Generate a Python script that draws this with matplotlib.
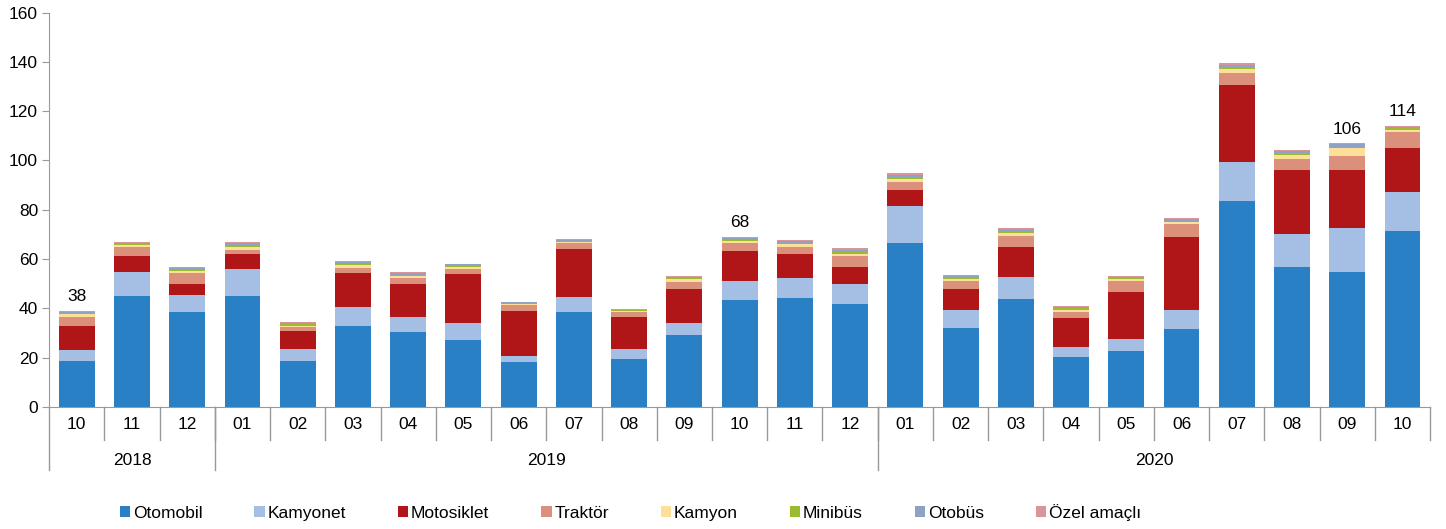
import numpy as np
import matplotlib.pyplot as plt
import matplotlib.transforms as mtransforms

plt.rcParams['font.family'] = ['Liberation Sans', 'DejaVu Sans']

# Months (2018-10 .. 2020-10) and year groups
months = ['10', '11', '12', '01', '02', '03', '04', '05', '06', '07', '08', '09',
          '10', '11', '12', '01', '02', '03', '04', '05', '06', '07', '08', '09', '10']
years = ['2018', '2019', '2020']
year_counts = [3, 12, 10]

# Series values (thousands)
otomobil = [18.7, 45.0, 38.3, 45.0, 18.7, 32.8, 30.2, 27.1, 18.0, 38.3, 19.4, 29.0, 43.5,
            44.0, 41.7, 66.4, 32.1, 43.6, 20.1, 22.6, 31.4, 83.5, 56.9, 54.8, 71.5]
kamyonet = [4.3, 9.8, 7.1, 10.8, 4.6, 7.6, 6.3, 6.8, 2.6, 6.4, 3.9, 4.9, 7.5,
            8.4, 8.1, 15.1, 7.4, 9.3, 4.3, 4.9, 8.1, 15.7, 13.1, 17.9, 15.8]
motosiklet = [9.8, 6.4, 4.4, 6.1, 7.4, 13.8, 13.3, 19.9, 18.4, 19.2, 13.2, 14.0, 12.2,
              9.5, 7.1, 6.4, 8.4, 12.1, 11.5, 19.2, 29.3, 31.3, 26.1, 23.4, 17.8]
traktor = [3.7, 3.8, 4.4, 1.7, 1.8, 2.3, 2.6, 2.2, 2.3, 2.5, 2.1, 2.9, 3.2,
           3.1, 4.3, 3.2, 3.1, 4.4, 2.7, 4.3, 5.3, 4.9, 4.5, 5.8, 6.3]
kamyon = [1.0, 0.8, 1.0, 1.2, 0.5, 1.0, 0.8, 0.8, 0.5, 0.7, 0.4, 0.9, 0.8,
          1.0, 0.9, 1.2, 0.8, 1.2, 0.9, 0.7, 0.9, 1.6, 1.6, 3.3, 1.0]
minibus = [0.6, 0.5, 0.5, 0.6, 0.8, 0.6, 0.5, 0.5, 0.3, 0.4, 0.3, 0.5, 0.6,
           0.6, 1.0, 1.0, 0.7, 0.7, 0.5, 0.4, 0.5, 0.8, 0.7, 0.4, 0.8]
otobus = [0.5, 0.4, 0.7, 0.9, 0.4, 0.7, 0.6, 0.5, 0.3, 0.4, 0.2, 0.5, 0.6,
          0.6, 0.7, 0.9, 0.6, 0.8, 0.6, 0.5, 0.6, 0.9, 0.9, 1.0, 0.5]
ozel = [0.4, 0.3, 0.5, 0.7, 0.3, 0.5, 0.5, 0.3, 0.2, 0.3, 0.2, 0.4, 0.4,
        0.5, 0.5, 0.6, 0.4, 0.5, 0.4, 0.4, 0.4, 0.7, 0.6, 0.3, 0.3]

series_names = ['Otomobil', 'Kamyonet', 'Motosiklet', 'Traktör', 'Kamyon',
                'Minibüs', 'Otobüs', 'Özel amaçlı']
colors = ['#2A80C4', '#A5BEE3', '#B01518', '#DA907A', '#FCE09A',
          '#9CBB2E', '#8FA2C6', '#D9959A']

# total labels shown above some bars
bar_labels = {0: '38', 12: '68', 23: '106', 24: '114'}

series = [otomobil, kamyonet, motosiklet, traktor, kamyon, minibus, otobus, ozel]

fs = 12.5
fig = plt.figure(figsize=(14.46, 5.29), dpi=100)
ax = fig.add_axes([0.034, 0.231, 0.955, 0.745])

x = np.arange(len(months))
bottom = np.zeros(len(months))
for name, vals, c in zip(series_names, series, colors):
    ax.bar(x, vals, width=0.65, bottom=bottom, color=c, label=name, linewidth=0)
    bottom += np.array(vals)

for i, txt in bar_labels.items():
    ax.annotate(txt, (x[i], bottom[i]), xytext=(0, 5), textcoords='offset points',
                ha='center', va='bottom', fontsize=fs)

ax.set_xlim(-0.5, len(months) - 0.5)
ax.set_ylim(0, 160)
ax.set_yticks(range(0, 161, 20))
ax.tick_params(axis='y', length=5, color='#999999', labelsize=fs, pad=3)
ax.set_xticks([])
for s in ['top', 'right']:
    ax.spines[s].set_visible(False)
ax.spines['left'].set_color('#999999')
ax.spines['bottom'].set_color('#999999')

# two-level category axis
trans = mtransforms.blended_transform_factory(ax.transData, ax.transAxes)
for i, m in enumerate(months):
    ax.text(i, -0.046, m, transform=trans, ha='center', va='center', fontsize=fs)
for b in np.arange(0.5, len(months) - 1, 1.0):
    ax.plot([b, b], [0, -0.085], transform=trans, color='#999999', lw=1, clip_on=False)
ax.plot([len(months) - 0.5] * 2, [0, -0.085], transform=trans, color='#999999', lw=1, clip_on=False)

start = 0
edges = [-0.5]
for y, n in zip(years, year_counts):
    ax.text(start + (n - 1) / 2, -0.135, y, transform=trans, ha='center', va='center', fontsize=fs)
    start += n
    edges.append(start - 0.5)
for e in edges[:-1]:
    ax.plot([e, e], [0, -0.161], transform=trans, color='#999999', lw=1, clip_on=False)

fig.legend(loc='center', bbox_to_anchor=(0.436, 0.032), ncol=8, frameon=False,
           fontsize=fs, handlelength=0.6, handleheight=0.6, handletextpad=0.15,
           columnspacing=3.0)

plt.savefig('out.png')
